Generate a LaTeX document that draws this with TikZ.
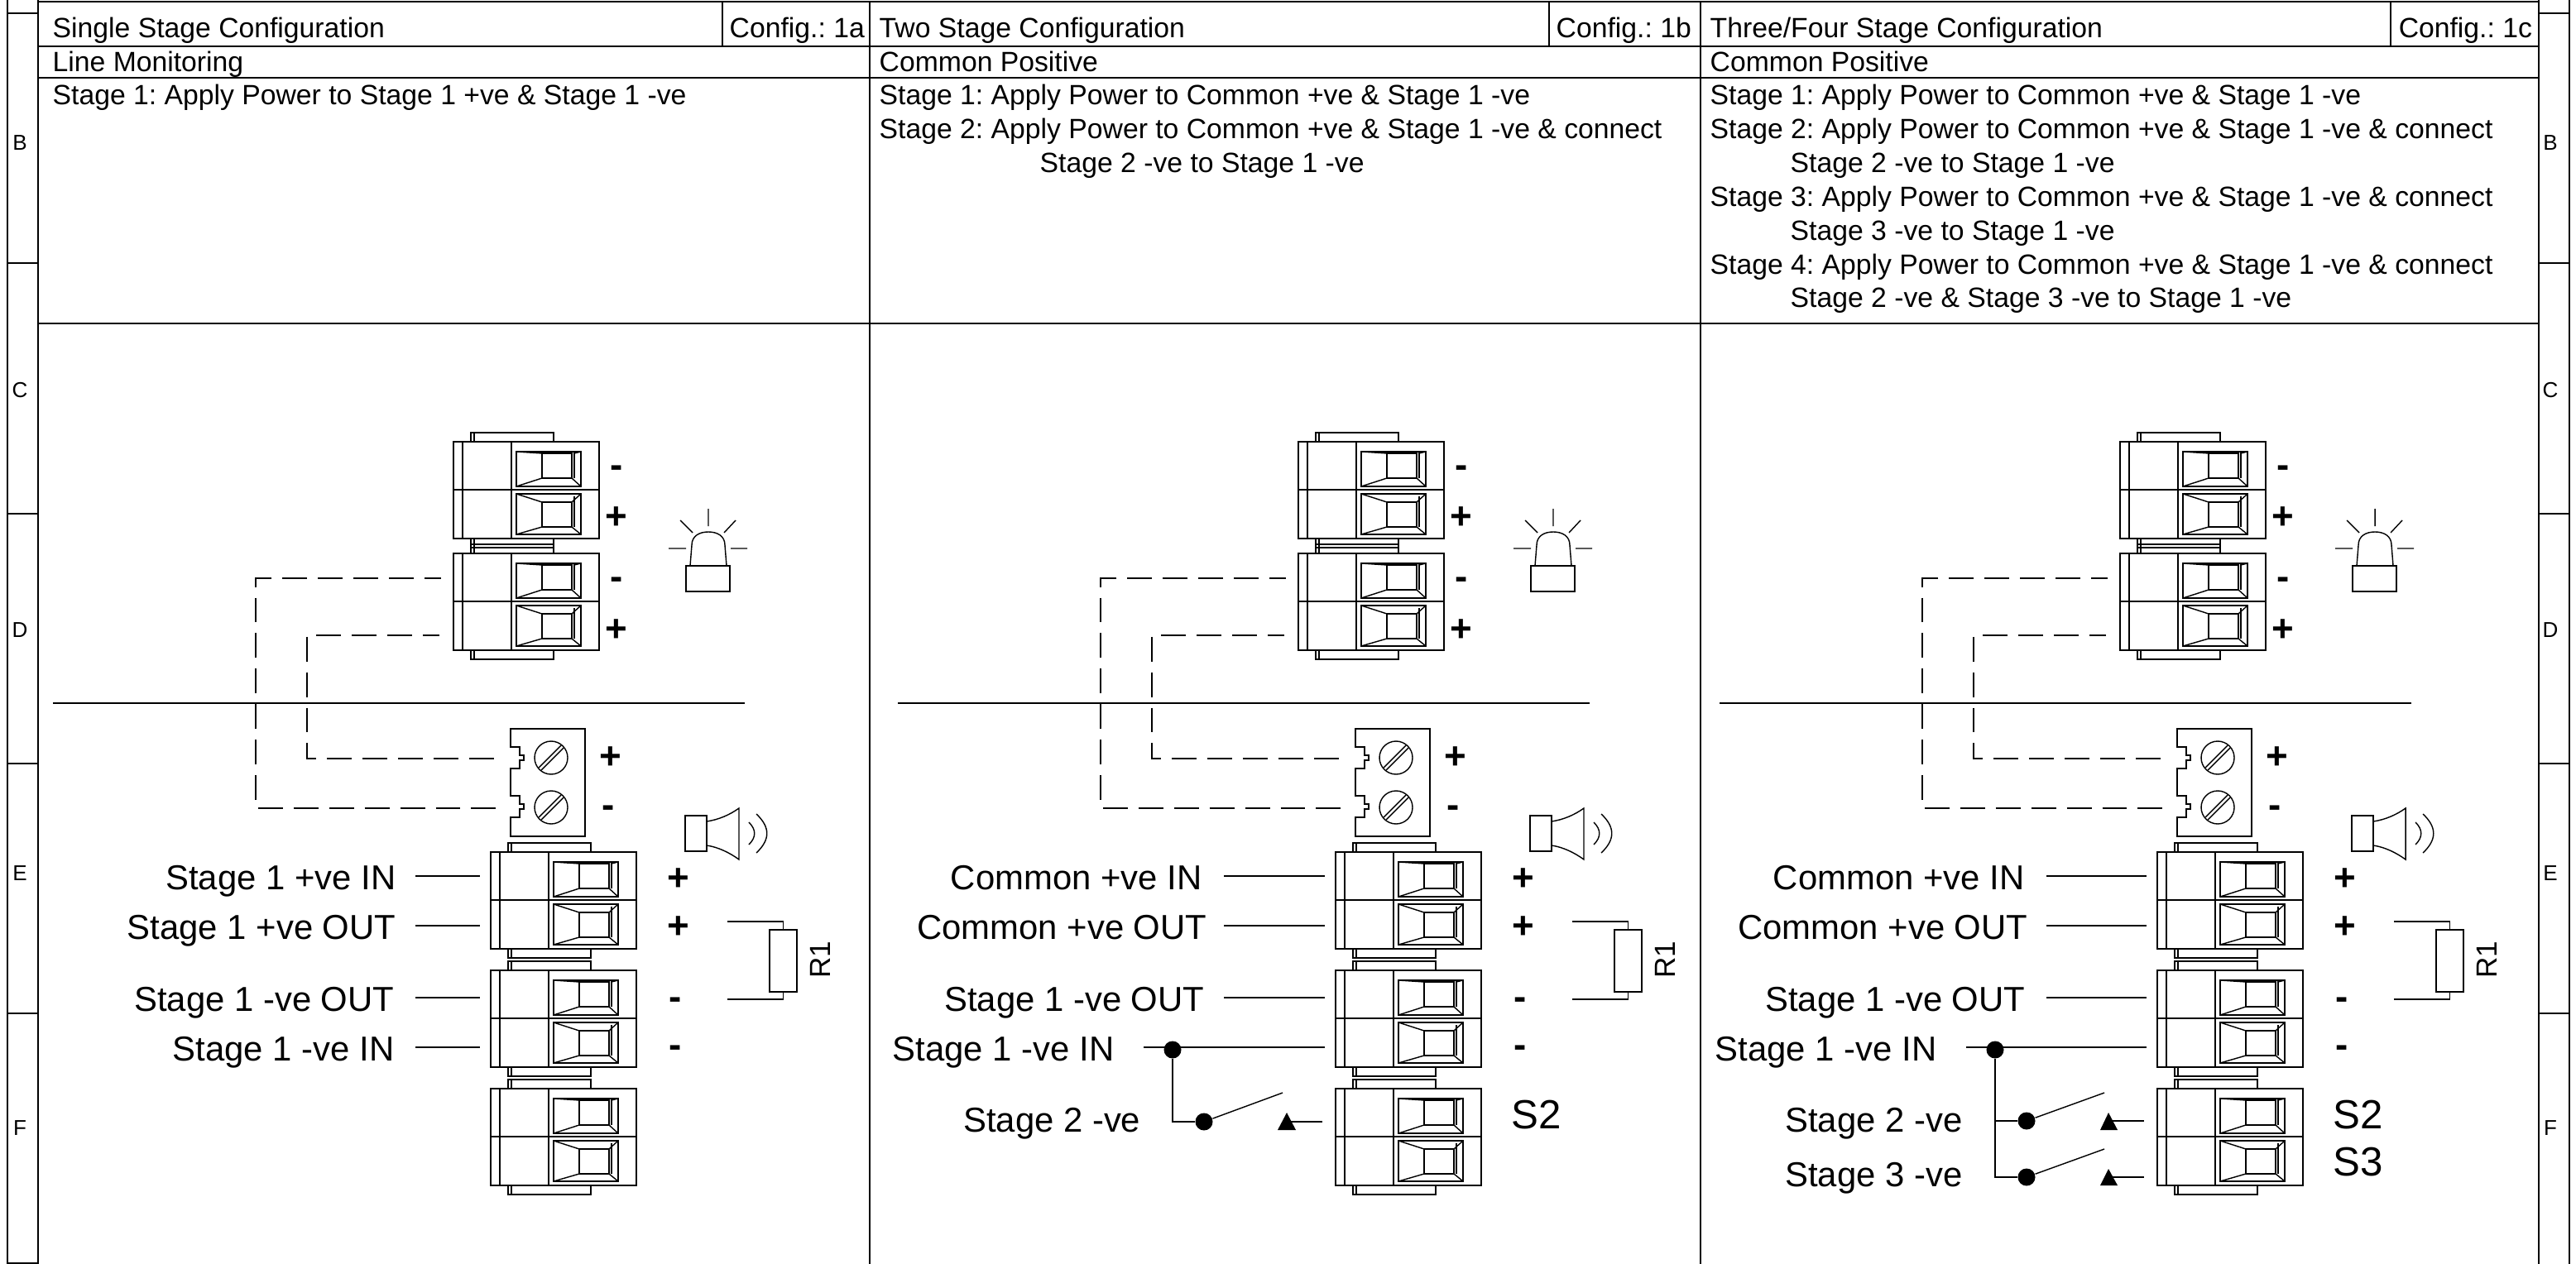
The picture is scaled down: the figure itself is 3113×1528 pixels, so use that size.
\documentclass[tikz,border=0pt]{standalone}
\usepackage{fontspec}
\setmainfont{Liberation Sans}
\usetikzlibrary{positioning}
\usetikzlibrary{calc}
\AtBeginDocument{\frenchspacing}
\tikzset{
	thinline/.style={line width=.4pt, line join=miter},
	frameline/.style={line width=.5pt},
	windowline/.style={line width=.6pt},
	dashwire/.style={line width=.4pt, dash pattern=on 8.5pt off 3.7pt, dash phase=2.8pt},
	headtext/.style={anchor=base west, inner sep=0pt, yshift=-.015cm, font=\fontsize{9.59}{11}\selectfont},
	wiretext/.style={anchor=base east, inner sep=0pt, xshift=.01cm, yshift=-.01cm, font=\fontsize{11.9}{14}\selectfont},
	plussign/.style={inner sep=0pt, yshift=-.02cm, font=\fontsize{13}{15}\selectfont\bfseries},
	minussign/.style={inner sep=0pt, yshift=-.05cm, font=\fontsize{13}{15}\selectfont\bfseries},
	zonetext/.style={inner sep=0pt, font=\fontsize{7.4}{9}\selectfont},
	switchtext/.style={inner sep=0pt, anchor=west, yshift=-.02cm, font=\fontsize{14}{16}\selectfont},
	wiredot/.style={circle, fill=black, inner sep=0pt, minimum size=.21cm},
}
%one two way plug, with its tabs
\newcommand{\termblock}[2]{
	\begin{scope}[shift={(#1,#2)}]
		\draw[thinline] (21,-11) rectangle (121,0) (25,-11)--(25,0);
		\draw[thinline] (21,117) rectangle (121,128) (25,117)--(25,128);
		\draw[frameline] (0,0) rectangle (176,117) (0,58)--(176,58);
		\draw[thinline] (11,0)--(11,117) (70,0)--(70,117);
		%top window
		\draw[windowline] (76,12) rectangle (154,54);
		\draw[thinline] (107,14) rectangle (143,44) (146,13)--(146,44);
		\draw[thinline] (76,12)--(107,14) (76,54)--(107,44) (154,12)--(146,14) (154,54)--(143,44);
		%bottom window
		\draw[windowline] (76,63) rectangle (154,112);
		\draw[thinline] (107,73) rectangle (143,103) (146,66)--(146,103);
		\draw[thinline] (76,63)--(107,73) (76,112)--(107,103) (154,63)--(143,73) (154,112)--(143,103);
	\end{scope}
}
%screw slot
\newcommand{\screwhead}[2]{
	\draw[thinline] (#1,#2) circle[radius=20];
	\draw[thinline] (#1-15,#2+12)--(#1+12,#2-15) (#1-12,#2+15)--(#1+15,#2-12);
}
%everything that is the same in all three columns
\newcommand{\commoncol}[2]{
	\begin{scope}[shift={(#1,0)}]
		\termblock{548}{534}
		\termblock{548}{669}
		\termblock{593}{1030}
		\termblock{593}{1173}
		\termblock{593}{1316}
		%upper signs
		\node[minussign] (#2a) at (745,565) {-};
		\node[plussign] (#2b) at (745,624) {+};
		\node[minussign] (#2c) at (745,700) {-};
		\node[plussign] (#2d) at (745,760) {+};
		\node[plussign] (#2e) at (738,914) {+};
		\node[minussign] (#2f) at (735,976) {-};
		\node[plussign] (#2g) at (820,1061) {+};
		\node[plussign] (#2h) at (820,1119) {+};
		\node[minussign] (#2i) at (816,1208) {-};
		\node[minussign] (#2j) at (816,1266) {-};
		%lamp
		\draw[thinline] (829,684) rectangle (882,715);
		\draw[thinline] (834,684)--(836,659) .. controls (836,648) and (845,643) .. (856,643) .. controls (867,643) and (876,648) .. (876,659)--(878,684);
		\draw[thinline] (856,615)--(856,636) (822,629)--(837,644) (889,629)--(875,644) (808,663)--(829,663) (883,663)--(903,663);
		%sounder
		\draw[thinline] (828,986) rectangle (854,1029);
		\draw[thinline] (854,993) .. controls (868,991) and (882,985) .. (893,977)--(893,1039) .. controls (882,1031) and (868,1024) .. (854,1022);
		\draw[thinline] (905,994) .. controls (914,1003) and (914,1012) .. (905,1021);
		\draw[thinline] (914,984) .. controls (931,1000) and (931,1015) .. (914,1031);
		%screw terminal
		\draw[thinline] (617,881)--(707,881)--(707,1011)--(617,1011)--(617,988)--(628,988)--(628,978)--(633,978)--(633,972)--(628,972)--(628,962)--(617,962)--(617,929)--(628,929)--(628,919)--(633,919)--(633,913)--(628,913)--(628,903)--(617,903)--cycle;
		\screwhead{666}{916}
		\screwhead{666}{976}
		%divider
		\coordinate (#2dl) at (64,850);
		\coordinate (#2dr) at (900,850);
		\draw[frameline] (#2dl)--(#2dr);
		%dashed wires
		\coordinate (#2ta) at (533,699);
		\coordinate (#2tb) at (608,977);
		\coordinate (#2tc) at (531,768);
		\coordinate (#2td) at (608,917);
		\draw[dashwire] (#2ta)--(309,699)--(309,977)--(#2tb);
		\draw[dashwire] (#2tc)--(371,768)--(371,917)--(#2td);
		%R1
		\node[draw, thinline, minimum width=.33cm, minimum height=.75cm, inner sep=0pt] (#2res) at (946.5,1161.5) {};
		\coordinate (#2ra) at (879,1114);
		\coordinate (#2rb) at (879,1208);
		\draw[thinline] (#2ra)-|(#2res.north);
		\draw[thinline] (#2rb)-|(#2res.south);
		\node[rotate=90, inner sep=0pt, font=\fontsize{10}{12}\selectfont] (#2rtext) at (991,1160) {R1};
	\end{scope}
}
%one wire with its label
\newcommand{\wirelabel}[6]{
	\node[wiretext] (#1text) at (#2,#3) {#4};
	\coordinate (#1l) at (#5,#3-15);
	\coordinate (#1r) at (#6,#3-15);
	\draw[thinline] (#1l)--(#1r);
}
\begin{document}
\begin{tikzpicture}[x=.01cm, y=-.01cm]
	\useasboundingbox (0,0) rectangle (3113,1528);
	%draw frame
	\draw[frameline] (9,0)--(9,1527)--(46,1527) (46,0)--(46,1528);
	\draw[frameline] (3068,0)--(3068,1528) (3105,0)--(3105,1528);
	\draw[frameline] (46,2)--(3068,2) (46,56)--(3068,56) (46,94)--(3068,94) (46,391)--(3068,391);
	\draw[frameline] (1051,2)--(1051,1528) (2055,2)--(2055,1528);
	\draw[frameline] (873,2)--(873,56) (1872,2)--(1872,56) (2889,2)--(2889,56);
	\draw[frameline] (9,16)--(46,16) (9,318)--(46,318) (9,621)--(46,621) (9,923)--(46,923) (9,1225)--(46,1225);
	\draw[frameline] (3068,16)--(3105,16) (3068,318)--(3105,318) (3068,621)--(3105,621) (3068,923)--(3105,923) (3068,1225)--(3105,1225);
	%zone letters
	\node[zonetext] (lb) at (24,173) {B};
	\node[zonetext] (lc) at (24,472) {C};
	\node[zonetext] (ld) at (24,762) {D};
	\node[zonetext] (le) at (24,1056) {E};
	\node[zonetext] (lf) at (24,1364) {F};
	\node[zonetext] (rb) at (3082,173) {B};
	\node[zonetext] (rc) at (3082,472) {C};
	\node[zonetext] (rd) at (3082,762) {D};
	\node[zonetext] (re) at (3082,1056) {E};
	\node[zonetext] (rf) at (3082,1364) {F};
	%first column text
	\node[headtext] (atitle) at (63,44) {Single Stage Configuration};
	\node[headtext] (aconf) at (881,44) {Config.: 1a};
	\node[headtext] (amode) at (63,85) {Line Monitoring};
	\node[headtext] (aone) at (63,125) {Stage 1: Apply Power to Stage 1 +ve \& Stage 1 -ve};
	%second column text
	\node[headtext] (btitle) at (1062,44) {Two Stage Configuration};
	\node[headtext] (bconf) at (1880,44) {Config.: 1b};
	\node[headtext] (bmode) at (1062,85) {Common Positive};
	\node[headtext] (bone) at (1062,125) {Stage 1: Apply Power to Common +ve \& Stage 1 -ve};
	\node[headtext] (btwo) at (1062,166) {Stage 2: Apply Power to Common +ve \& Stage 1 -ve \& connect};
	\node[headtext] (btwob) at (1256,207) {Stage 2 -ve to Stage 1 -ve};
	%third column text
	\node[headtext] (ctitle) at (2066,44) {Three/Four Stage Configuration};
	\node[headtext] (cconf) at (2898,44) {Config.: 1c};
	\node[headtext] (cmode) at (2066,85) {Common Positive};
	\node[headtext] (cone) at (2066,125) {Stage 1: Apply Power to Common +ve \& Stage 1 -ve};
	\node[headtext] (ctwo) at (2066,166) {Stage 2: Apply Power to Common +ve \& Stage 1 -ve \& connect};
	\node[headtext] (ctwob) at (2163,207) {Stage 2 -ve to Stage 1 -ve};
	\node[headtext] (cthree) at (2066,248) {Stage 3: Apply Power to Common +ve \& Stage 1 -ve \& connect};
	\node[headtext] (cthreeb) at (2163,289) {Stage 3 -ve to Stage 1 -ve};
	\node[headtext] (cfour) at (2066,330) {Stage 4: Apply Power to Common +ve \& Stage 1 -ve \& connect};
	\node[headtext] (cfourb) at (2163,370) {Stage 2 -ve \& Stage 3 -ve to Stage 1 -ve};
	%the three drawings
	\commoncol{0}{a}
	\commoncol{1021}{b}
	\commoncol{2014}{c}
	%first column wires
	\wirelabel{ap}{478}{1074}{Stage 1 +ve IN}{502}{580}
	\wirelabel{aq}{478}{1134}{Stage 1 +ve OUT}{502}{580}
	\wirelabel{ar}{476}{1221}{Stage 1 -ve OUT}{502}{580}
	\wirelabel{as}{476}{1281}{Stage 1 -ve IN}{502}{580}
	%second column wires
	\wirelabel{bp}{1452}{1074}{Common +ve IN}{1479}{1601}
	\wirelabel{bq}{1458}{1134}{Common +ve OUT}{1479}{1601}
	\wirelabel{br}{1455}{1221}{Stage 1 -ve OUT}{1479}{1601}
	\wirelabel{bs}{1346}{1281}{Stage 1 -ve IN}{1382}{1601}
	\node[wiretext] (bstwo) at (1378,1367) {Stage 2 -ve};
	\node[wiredot] (bdota) at (1417,1269) {};
	\node[wiredot] (bdotb) at (1455,1356) {};
	\coordinate (barm) at (1550,1321);
	\coordinate (bpin) at (1555,1356);
	\coordinate (bend) at (1598,1356);
	\draw[thinline] (bdota)|-(bdotb);
	\draw[thinline] (bdotb)--(barm);
	\draw[thinline] (bpin)--(bend);
	\fill (1555,1345)--(1566,1366)--(1544,1366)--cycle;
	\node[switchtext] (bstwob) at (1826,1346) {S2};
	%third column wires
	\wirelabel{cp}{2446}{1074}{Common +ve IN}{2473}{2594}
	\wirelabel{cq}{2450}{1134}{Common +ve OUT}{2473}{2594}
	\wirelabel{cr}{2447}{1221}{Stage 1 -ve OUT}{2473}{2594}
	\wirelabel{cs}{2340}{1281}{Stage 1 -ve IN}{2376}{2594}
	\node[wiretext] (cstwo) at (2371,1367) {Stage 2 -ve};
	\node[wiretext] (csthree) at (2371,1433) {Stage 3 -ve};
	\node[wiredot] (cdota) at (2411,1269) {};
	\node[wiredot] (cdotb) at (2449,1355) {};
	\node[wiredot] (cdotc) at (2449,1423) {};
	\coordinate (carmb) at (2543,1321);
	\coordinate (carmc) at (2543,1389);
	\coordinate (cpinb) at (2548,1355);
	\coordinate (cpinc) at (2548,1423);
	\coordinate (cendb) at (2591,1355);
	\coordinate (cendc) at (2591,1423);
	\draw[thinline] (cdota)|-(cdotc);
	\draw[thinline] (2411,1355)--(cdotb);
	\draw[thinline] (cdotb)--(carmb);
	\draw[thinline] (cdotc)--(carmc);
	\draw[thinline] (cpinb)--(cendb);
	\draw[thinline] (cpinc)--(cendc);
	\fill (2548,1345)--(2559,1366)--(2538,1366)--cycle;
	\fill (2548,1413)--(2559,1433)--(2538,1433)--cycle;
	\node[switchtext] (cstwob) at (2819,1346) {S2};
	\node[switchtext] (csthreeb) at (2819,1403) {S3};
\end{tikzpicture}
\end{document}
